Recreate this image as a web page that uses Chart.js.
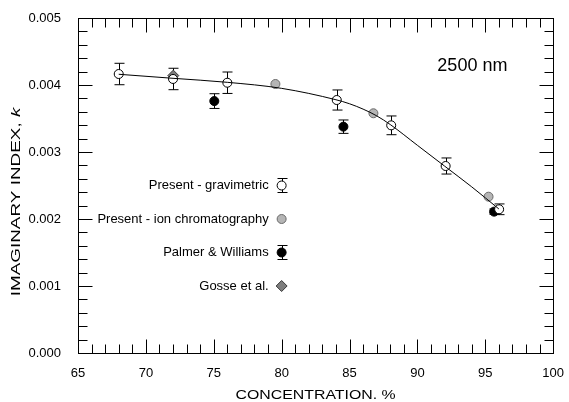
<!DOCTYPE html>
<html>
<head>
<meta charset="utf-8">
<script src="https://cdn.jsdelivr.net/npm/chart.js@4.4.0/dist/chart.umd.min.js"></script>
<style>
  html, body { margin: 0; padding: 0; background: #fff; }
  #wrap { width: 569px; height: 402px; position: relative; }
</style>
</head>
<body>
<div id="wrap"><canvas id="chart"></canvas></div>
<script>
// Datos (concentracion %, indice imaginario k)
const gravX = [68, 72, 76, 84.06, 88.07, 92.08, 96.02];
const gravK = [0.004164, 0.00409, 0.004034, 0.003776, 0.003398, 0.002791, 0.002145];
const gravErr = [0.00016, 0.00016, 0.00016, 0.00015, 0.00014, 0.00012, 0.00008];

const ionX = [79.54, 86.76, 95.24];
const ionK = [0.004015, 0.003578, 0.002333];

const palmerX = [75.04, 84.55, 95.65];
const palmerK = [0.00376, 0.003378, 0.00211];
const palmerErr = [0.00011, 0.0001, 0.00004];

const gosseX = [72.02];
const gosseK = [0.00414];

// curva ajustada
const fitX = [68, 72, 76, 80, 84, 85, 86, 87, 88, 90, 92, 94, 96];
const fitK = [0.00416, 0.0041, 0.00404, 0.00395, 0.00378, 0.00372, 0.00364, 0.00354, 0.00341, 0.0031, 0.00279, 0.00248, 0.00215];

const legendLabels = ['Present - gravimetric', 'Present - ion chromatography', 'Palmer & Williams', 'Gosse et al.'];
const legendK = [0.0025, 0.002, 0.0015, 0.001];
const legendX = 80;

const xTitle = 'CONCENTRATION. %';
const yTitle = 'IMAGINARY INDEX, ';
const yTitleItalic = 'k';
const waveLabel = '2500 nm';

const FONT = '"Liberation Sans", Arial, sans-serif';

function toPts(xs, ys) {
  return xs.map((x, i) => ({ x: x, y: ys[i] }));
}

// dibuja un simbolo (circulo o rombo)
function drawSymbol(ctx, kind, x, y, fill, stroke) {
  ctx.save();
  ctx.beginPath();
  if (kind === 'diamond') {
    const r = 5.5;
    ctx.moveTo(x, y - r);
    ctx.lineTo(x + r, y);
    ctx.lineTo(x, y + r);
    ctx.lineTo(x - r, y);
    ctx.closePath();
  } else {
    ctx.arc(x, y, 4.5, 0, Math.PI * 2);
  }
  ctx.fillStyle = fill;
  ctx.fill();
  ctx.lineWidth = 1;
  ctx.strokeStyle = stroke;
  ctx.stroke();
  ctx.restore();
}

function drawBar(ctx, x, yTop, yBot) {
  ctx.beginPath();
  ctx.moveTo(x, yTop);
  ctx.lineTo(x, yBot);
  ctx.moveTo(x - 5, yTop);
  ctx.lineTo(x + 5, yTop);
  ctx.moveTo(x - 5, yBot);
  ctx.lineTo(x + 5, yBot);
  ctx.stroke();
}

// texto estirado horizontalmente como en la figura original
function stretchedText(ctx, parts, x, y, sx, rot) {
  ctx.save();
  ctx.translate(x, y);
  ctx.rotate(rot);
  ctx.scale(sx, 1);
  let total = 0;
  parts.forEach((p) => { ctx.font = p.font; total += ctx.measureText(p.text).width; });
  let cx = -total / 2;
  ctx.textBaseline = 'middle';
  ctx.textAlign = 'left';
  ctx.fillStyle = '#000';
  parts.forEach((p) => {
    ctx.font = p.font;
    ctx.fillText(p.text, cx, 0);
    cx += ctx.measureText(p.text).width;
  });
  ctx.restore();
}

const errorBarPlugin = {
  id: 'errorBars',
  beforeDatasetsDraw(chart) {
    const ctx = chart.ctx;
    const xs = chart.scales.x, ys = chart.scales.y;
    ctx.save();
    ctx.strokeStyle = '#000';
    ctx.lineWidth = 1;
    chart.data.datasets.forEach((ds) => {
      if (!ds.errors) return;
      ds.data.forEach((p, i) => {
        const px = Math.round(xs.getPixelForValue(p.x)) + 0.5;
        drawBar(ctx, px, ys.getPixelForValue(p.y + ds.errors[i]), ys.getPixelForValue(p.y - ds.errors[i]));
      });
    });
    ctx.restore();
  }
};

const framePlugin = {
  id: 'frame',
  beforeDatasetsDraw(chart) {
    const ctx = chart.ctx;
    const a = chart.chartArea;
    const xs = chart.scales.x, ys = chart.scales.y;
    ctx.save();
    ctx.strokeStyle = '#000';
    ctx.lineWidth = 1;
    const L = Math.round(a.left) + 0.5, R = Math.round(a.right) + 0.5;
    const T = Math.round(a.top) + 0.5, B = Math.round(a.bottom) + 0.5;
    ctx.strokeRect(L, T, R - L, B - T);
    ctx.beginPath();
    for (let v = 65; v <= 100; v++) {
      const px = Math.round(xs.getPixelForValue(v)) + 0.5;
      const len = v % 5 === 0 ? 14 : 9;
      ctx.moveTo(px, B); ctx.lineTo(px, B - len);
      ctx.moveTo(px, T); ctx.lineTo(px, T + len);
    }
    for (let i = 0; i <= 25; i++) {
      const py = Math.round(ys.getPixelForValue(i * 0.0002)) + 0.5;
      const len = i % 5 === 0 ? 14 : 9;
      ctx.moveTo(L, py); ctx.lineTo(L + len, py);
      ctx.moveTo(R, py); ctx.lineTo(R - len, py);
    }
    ctx.stroke();
    ctx.restore();
  }
};

const labelsPlugin = {
  id: 'labels',
  afterDatasetsDraw(chart) {
    const ctx = chart.ctx;
    const xs = chart.scales.x, ys = chart.scales.y;
    const a = chart.chartArea;

    // leyenda
    const sx = xs.getPixelForValue(legendX);
    const styles = [
      { kind: 'circle', fill: '#fff', stroke: '#000', bar: true },
      { kind: 'circle', fill: '#b5b5b5', stroke: '#6a6a6a', bar: false },
      { kind: 'circle', fill: '#000', stroke: '#000', bar: true },
      { kind: 'diamond', fill: '#7d7d7d', stroke: '#3a3a3a', bar: false }
    ];
    ctx.save();
    ctx.font = '13px ' + FONT;
    ctx.textAlign = 'right';
    ctx.textBaseline = 'middle';
    ctx.fillStyle = '#000';
    legendLabels.forEach((lab, i) => {
      const py = ys.getPixelForValue(legendK[i]);
      ctx.fillText(lab, sx - 13, py);
      ctx.strokeStyle = '#000';
      ctx.lineWidth = 1;
      if (styles[i].bar) drawBar(ctx, Math.round(sx) + 0.5, py - 7, py + 7);
      drawSymbol(ctx, styles[i].kind, sx, py, styles[i].fill, styles[i].stroke);
    });

    // longitud de onda
    ctx.font = '18px ' + FONT;
    ctx.textAlign = 'center';
    ctx.fillText(waveLabel, xs.getPixelForValue(94.05), ys.getPixelForValue(0.00429));
    ctx.restore();

    // titulos de los ejes
    stretchedText(ctx, [{ text: xTitle, font: '13px ' + FONT }], (a.left + a.right) / 2, 395, 1.22, 0);
    stretchedText(ctx, [
      { text: yTitle, font: '13.5px ' + FONT },
      { text: yTitleItalic, font: 'italic 13.5px ' + FONT }
    ], 16, 202, 1.4, -Math.PI / 2);
  }
};

const ctx = document.getElementById('chart').getContext('2d');
const chart = new Chart(ctx, {
  type: 'scatter',
  data: {
    datasets: [
      {
        type: 'line',
        data: toPts(fitX, fitK),
        borderColor: '#000',
        borderWidth: 1,
        pointRadius: 0,
        fill: false,
        cubicInterpolationMode: 'monotone'
      },
      {
        data: toPts(gravX, gravK),
        errors: gravErr,
        pointStyle: 'circle',
        pointRadius: 4.5,
        backgroundColor: '#fff',
        borderColor: '#000',
        borderWidth: 1
      },
      {
        data: toPts(ionX, ionK),
        pointStyle: 'circle',
        pointRadius: 4.5,
        backgroundColor: '#b5b5b5',
        borderColor: '#6a6a6a',
        borderWidth: 1
      },
      {
        data: toPts(palmerX, palmerK),
        errors: palmerErr,
        pointStyle: 'circle',
        pointRadius: 4.5,
        backgroundColor: '#000',
        borderColor: '#000',
        borderWidth: 1
      },
      {
        data: toPts(gosseX, gosseK),
        pointStyle: 'rectRot',
        pointRadius: 5.5,
        backgroundColor: '#7d7d7d',
        borderColor: '#3a3a3a',
        borderWidth: 1
      }
    ]
  },
  options: {
    responsive: true,
    maintainAspectRatio: false,
    animation: false,
    layout: { padding: { top: 18, right: 11, left: 0, bottom: 0 } },
    plugins: {
      legend: { display: false },
      tooltip: { enabled: false }
    },
    scales: {
      x: {
        type: 'linear',
        min: 65,
        max: 100,
        grid: { display: false },
        border: { display: false },
        ticks: { stepSize: 5, color: '#000', padding: 5, font: { family: FONT, size: 13 } },
        afterFit: (s) => { s.height = 49; }
      },
      y: {
        min: 0,
        max: 0.005,
        grid: { display: false },
        border: { display: false },
        ticks: {
          stepSize: 0.001,
          color: '#000',
          padding: 9,
          font: { family: FONT, size: 13 },
          callback: (v) => v.toFixed(3)
        },
        afterFit: (s) => { s.width = 78; }
      }
    }
  },
  plugins: [framePlugin, errorBarPlugin, labelsPlugin]
});
</script>
</body>
</html>
